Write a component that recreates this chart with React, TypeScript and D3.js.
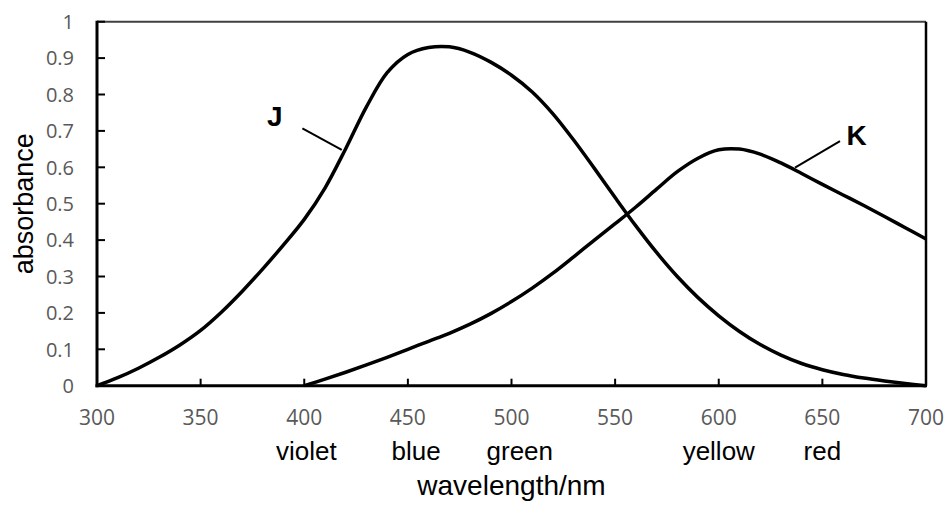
import React from "react";
import * as d3 from "d3";

const wavelengthTicks = [300, 350, 400, 450, 500, 550, 600, 650, 700];
const absorbanceTicks = [0, 0.1, 0.2, 0.3, 0.4, 0.5, 0.6, 0.7, 0.8, 0.9, 1];
const absorbanceTickLabels = ["0", "0.1", "0.2", "0.3", "0.4", "0.5", "0.6", "0.7", "0.8", "0.9", "1"];

const jWavelength = [300, 310, 320, 330, 340, 350, 360, 370, 380, 390, 400, 410, 420, 430, 440, 450, 460, 470, 480, 490, 500, 510, 520, 530, 540, 550, 560, 570, 580, 590, 600, 610, 620, 630, 640, 650, 660, 670, 680, 690, 700];
const jAbsorbance = [0, 0.022, 0.048, 0.078, 0.112, 0.152, 0.202, 0.259, 0.321, 0.387, 0.457, 0.543, 0.651, 0.766, 0.86, 0.91, 0.929, 0.931, 0.916, 0.889, 0.853, 0.807, 0.747, 0.675, 0.597, 0.517, 0.439, 0.366, 0.3, 0.242, 0.192, 0.149, 0.113, 0.084, 0.061, 0.044, 0.031, 0.021, 0.013, 0.006, 0];

const kWavelength = [400, 410, 420, 430, 440, 450, 460, 470, 480, 490, 500, 510, 520, 530, 540, 550, 560, 570, 580, 590, 600, 610, 620, 630, 640, 650, 660, 670, 680, 690, 700];
const kAbsorbance = [0, 0.018, 0.037, 0.057, 0.078, 0.1, 0.122, 0.144, 0.169, 0.198, 0.231, 0.268, 0.309, 0.354, 0.4, 0.445, 0.491, 0.54, 0.588, 0.625, 0.648, 0.65, 0.636, 0.612, 0.583, 0.553, 0.524, 0.495, 0.465, 0.434, 0.403];

const colourNames = ["violet", "blue", "green", "yellow", "red"];
const colourPositions = [401, 454, 504, 600, 650];

const curveLabels = ["J", "K"];
const curveLabelX = [382, 661.7];
const curveLabelY = [0.714, 0.661];
const leaderStartX = [399.1, 658.5];
const leaderStartY = [0.707, 0.672];
const leaderEndX = [418.1, 636.8];
const leaderEndY = [0.648, 0.599];

export default function App() {
  const W = 945;
  const H = 507;
  const left = 97;
  const right = 926;
  const top = 21.7;
  const bottom = 385.7;

  const x = d3.scaleLinear().domain([300, 700]).range([left, right]);
  const y = d3.scaleLinear().domain([0, 1]).range([bottom, top]);

  const line = d3
    .line<[number, number]>()
    .x((d) => x(d[0]))
    .y((d) => y(d[1]))
    .curve(d3.curveCatmullRom.alpha(0.5));

  const jData: [number, number][] = jWavelength.map((w, i) => [w, jAbsorbance[i]]);
  const kData: [number, number][] = kWavelength.map((w, i) => [w, kAbsorbance[i]]);

  const tickFont = "'Open Sans', sans-serif";
  const textFont = "'Liberation Sans', Arial, sans-serif";
  const yFs = 20;

  return (
    <svg
      width={W}
      height={H}
      style={{ position: "fixed", left: 0, top: 0, background: "#fff" }}
    >
      <rect x={0} y={0} width={W} height={H} fill="#fff" />
      {/* frame */}
      <line x1={left} x2={right} y1={top} y2={top} stroke="#404040" strokeWidth={2} />
      <line x1={right} x2={right} y1={top} y2={bottom} stroke="#000" strokeWidth={2.5} />

      {/* y ticks */}
      {absorbanceTicks.map((t, i) => (
        <g key={"y" + i}>
          <line x1={left} x2={left + 8} y1={y(t)} y2={y(t)} stroke="#000" strokeWidth={2} />
          <text
            x={74}
            y={y(t) + yFs * 0.36}
            textAnchor="end"
            fontFamily={tickFont}
            fontSize={yFs}
            fill="#595959"
          >
            {absorbanceTickLabels[i]}
          </text>
        </g>
      ))}

      {/* x ticks */}
      {wavelengthTicks.map((t, i) => (
        <g key={"x" + i}>
          <line x1={x(t)} x2={x(t)} y1={bottom} y2={bottom - 7} stroke="#000" strokeWidth={2} />
          <text
            x={x(t)}
            y={425}
            textAnchor="middle"
            fontFamily={tickFont}
            fontSize={21}
            fill="#595959"
          >
            {t}
          </text>
        </g>
      ))}

      {/* axes */}
      <line x1={left} x2={left} y1={top - 1} y2={bottom + 1.5} stroke="#000" strokeWidth={3} />
      <line x1={left - 1.5} x2={right + 1} y1={bottom} y2={bottom} stroke="#000" strokeWidth={3} />

      {/* curves */}
      <path d={line(jData) || ""} fill="none" stroke="#000" strokeWidth={3.5} strokeLinejoin="round" />
      <path d={line(kData) || ""} fill="none" stroke="#000" strokeWidth={3.5} strokeLinejoin="round" />

      {/* leaders and labels */}
      {curveLabels.map((lab, i) => (
        <g key={lab}>
          <line
            x1={x(leaderStartX[i])}
            y1={y(leaderStartY[i])}
            x2={x(leaderEndX[i])}
            y2={y(leaderEndY[i])}
            stroke="#000"
            strokeWidth={2}
          />
          <text
            x={x(curveLabelX[i])}
            y={y(curveLabelY[i])}
            fontFamily={textFont}
            fontWeight="bold"
            fontSize={28}
            fill="#000"
          >
            {lab}
          </text>
        </g>
      ))}

      {/* colour names */}
      {colourNames.map((c, i) => (
        <text
          key={c}
          x={x(colourPositions[i])}
          y={460}
          textAnchor="middle"
          fontFamily={textFont}
          fontSize={26}
          fill="#000"
        >
          {c}
        </text>
      ))}

      {/* axis titles */}
      <text
        x={(left + right) / 2}
        y={495}
        textAnchor="middle"
        fontFamily={textFont}
        fontSize={28}
        fill="#000"
      >
        wavelength/nm
      </text>
      <text
        transform={`translate(33, ${(top + bottom) / 2}) rotate(-90)`}
        textAnchor="middle"
        fontFamily={textFont}
        fontSize={27}
        fill="#000"
      >
        absorbance
      </text>
    </svg>
  );
}
